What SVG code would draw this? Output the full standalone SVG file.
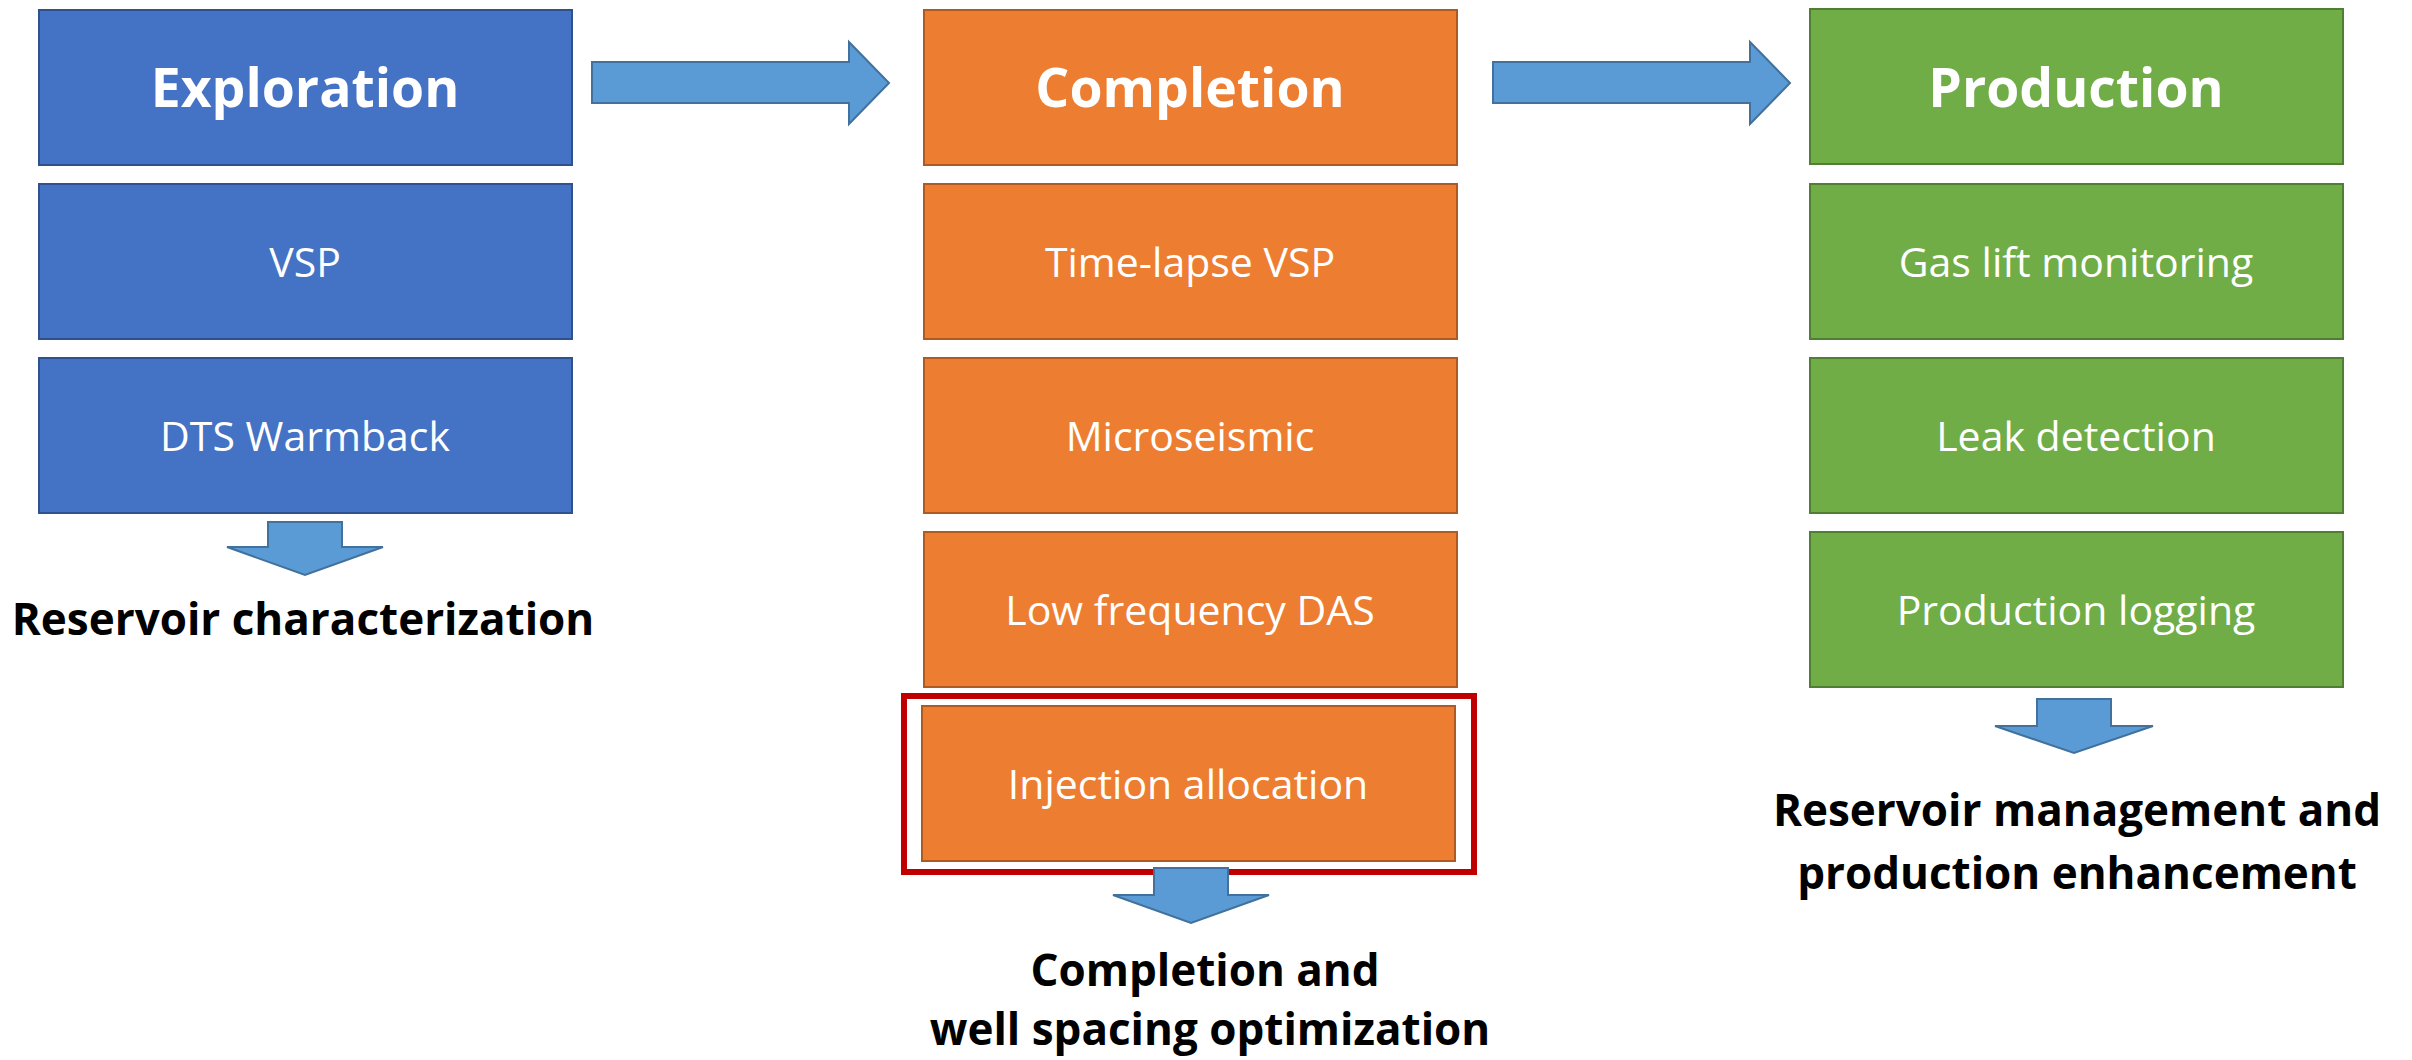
<svg xmlns="http://www.w3.org/2000/svg" width="2412" height="1060" viewBox="0 0 2412 1060">
<style>
.bg{fill:#ffffff}
.blue{fill:#4472C4;stroke:#2F528F;stroke-width:2}
.orange{fill:#ED7D31;stroke:#AE5A21;stroke-width:2}
.green{fill:#70AD47;stroke:#507E32;stroke-width:2}
.arrow{fill:#5B9BD5;stroke:#41719C;stroke-width:2;stroke-linejoin:miter}
.hl{fill:none;stroke:#C00000;stroke-width:6}
.head{font-family:"Open Sans","Liberation Sans",sans-serif;font-weight:bold;font-size:53.5px;fill:#ffffff;text-anchor:middle}
.item{font-family:"Open Sans","Liberation Sans",sans-serif;font-size:41px;fill:#ffffff;text-anchor:middle}
.cap{font-family:"Open Sans","Liberation Sans",sans-serif;font-weight:bold;font-size:44px;fill:#000000;text-anchor:middle}
</style>
<rect class="bg" x="0" y="0" width="2412" height="1060"/>

<g id="exploration">
  <rect class="blue" x="39" y="10" width="533" height="155"/>
  <text class="head" x="305" y="107">Exploration</text>
</g>
<g id="vsp">
  <rect class="blue" x="39" y="184" width="533" height="155"/>
  <text class="item" x="305" y="277">VSP</text>
</g>
<g id="dts-warmback">
  <rect class="blue" x="39" y="358" width="533" height="155"/>
  <text class="item" x="305" y="451">DTS Warmback</text>
</g>
<g id="reservoir-characterization">
  <text class="cap" x="303" y="635">Reservoir characterization</text>
</g>

<g id="completion">
  <rect class="orange" x="924" y="10" width="533" height="155"/>
  <text class="head" x="1190" y="107">Completion</text>
</g>
<g id="time-lapse-vsp">
  <rect class="orange" x="924" y="184" width="533" height="155"/>
  <text class="item" x="1190" y="277">Time-lapse VSP</text>
</g>
<g id="microseismic">
  <rect class="orange" x="924" y="358" width="533" height="155"/>
  <text class="item" x="1190" y="451">Microseismic</text>
</g>
<g id="low-frequency-das">
  <rect class="orange" x="924" y="532" width="533" height="155"/>
  <text class="item" x="1190" y="625">Low frequency DAS</text>
</g>
<g id="injection-allocation">
  <rect class="orange" x="922" y="706" width="533" height="155"/>
  <text class="item" x="1188" y="799">Injection allocation</text>
  <rect class="hl" x="904" y="696" width="570" height="176"/>
</g>
<g id="completion-optimization">
  <text class="cap" x="1205" y="986">Completion and</text>
  <text class="cap" x="1210" y="1045">well spacing optimization</text>
</g>

<g id="production">
  <rect class="green" x="1810" y="9" width="533" height="155"/>
  <text class="head" x="2076" y="107">Production</text>
</g>
<g id="gas-lift-monitoring">
  <rect class="green" x="1810" y="184" width="533" height="155"/>
  <text class="item" x="2076" y="277">Gas lift monitoring</text>
</g>
<g id="leak-detection">
  <rect class="green" x="1810" y="358" width="533" height="155"/>
  <text class="item" x="2076" y="451">Leak detection</text>
</g>
<g id="production-logging">
  <rect class="green" x="1810" y="532" width="533" height="155"/>
  <text class="item" x="2076" y="625">Production logging</text>
</g>
<g id="reservoir-management">
  <text class="cap" x="2077" y="826">Reservoir management and</text>
  <text class="cap" x="2077" y="889">production enhancement</text>
</g>

<g id="connectors">
  <polygon class="arrow" points="592,62 849,62 849,42 889,83 849,124 849,103 592,103"/>
  <polygon class="arrow" points="1493,62 1750,62 1750,42 1790,83 1750,124 1750,103 1493,103"/>
  <polygon class="arrow" points="268,522 342,522 342,547 383,547 305,575 227,547 268,547"/>
  <polygon class="arrow" points="1154,868 1228,868 1228,895 1269,895 1191,923 1113,895 1154,895"/>
  <polygon class="arrow" points="2037,699 2111,699 2111,726 2153,726 2074,753 1995,726 2037,726"/>
</g>
</svg>
